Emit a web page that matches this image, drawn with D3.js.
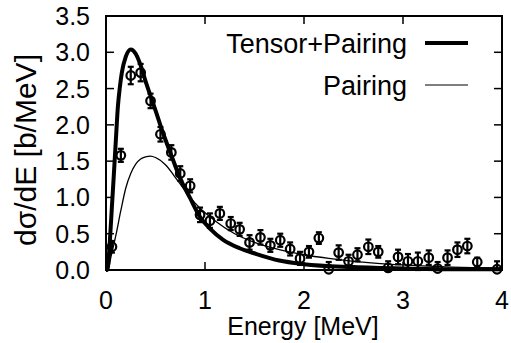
<!DOCTYPE html>
<html>
<head>
    <title></title>
    <script src="https://d3js.org/d3.v7.min.js"></script>
    <style>
        body { margin: 0; background: #fff; }
        text { font-family: "Liberation Sans", Arial, sans-serif; fill: #000; }
    </style>
</head>
<body>

    <svg id="chart" width="511" height="343"></svg>

    <script>

    // measured points
    var energy = [0.06, 0.15, 0.25, 0.35, 0.45, 0.55, 0.66, 0.75, 0.85, 0.95,
                  1.05, 1.15, 1.26, 1.35, 1.45, 1.56, 1.66, 1.76, 1.86, 1.96,
                  2.05, 2.15, 2.25, 2.35, 2.45, 2.54, 2.65, 2.75, 2.85, 2.95,
                  3.05, 3.15, 3.26, 3.35, 3.45, 3.55, 3.65, 3.75, 3.95];
    var dsde   = [0.32, 1.58, 2.68, 2.72, 2.33, 1.87, 1.62, 1.33, 1.16, 0.76,
                  0.68, 0.78, 0.64, 0.56, 0.38, 0.45, 0.34, 0.41, 0.29, 0.16,
                  0.25, 0.44, 0.01, 0.24, 0.12, 0.21, 0.32, 0.25, 0.03, 0.18,
                  0.12, 0.12, 0.17, 0.02, 0.17, 0.28, 0.33, 0.11, 0.01];
    var err    = [0.08, 0.09, 0.12, 0.12, 0.10, 0.10, 0.10, 0.10, 0.09, 0.10,
                  0.10, 0.09, 0.09, 0.09, 0.10, 0.10, 0.09, 0.09, 0.09, 0.09,
                  0.08, 0.08, 0.10, 0.10, 0.09, 0.09, 0.10, 0.08, 0.09, 0.10,
                  0.10, 0.12, 0.10, 0.09, 0.10, 0.10, 0.10, 0.06, 0.11];

    // calculated curves
    var tpE = [0, 0.01, 0.02, 0.04, 0.06, 0.08, 0.10, 0.12, 0.14, 0.16, 0.20, 0.25,
               0.30, 0.35, 0.40, 0.45, 0.50, 0.56, 0.66, 0.75, 0.85, 0.95, 1.05,
               1.18, 1.35, 1.52, 1.75, 2.0, 2.5, 3.0, 3.5, 4.0];
    var tpV = [0, 0, 0.05, 0.42, 0.88, 1.33, 1.80, 2.25, 2.52, 2.72, 2.94, 3.04,
               2.98, 2.82, 2.60, 2.40, 2.20, 1.95, 1.58, 1.26, 0.99, 0.73, 0.57,
               0.42, 0.30, 0.22, 0.13, 0.08, 0.04, 0.02, 0.01, 0.01];

    var pE = [0, 0.02, 0.05, 0.10, 0.15, 0.20, 0.25, 0.30, 0.35, 0.40, 0.45, 0.50,
              0.60, 0.73, 0.85, 0.95, 1.10, 1.30, 1.50, 1.75, 2.0, 2.25, 2.5,
              3.0, 3.5, 4.0];
    var pV = [0, 0, 0.18, 0.48, 0.82, 1.13, 1.33, 1.46, 1.53, 1.56, 1.57, 1.55,
              1.45, 1.22, 1.00, 0.85, 0.68, 0.50, 0.38, 0.28, 0.21, 0.16, 0.12,
              0.07, 0.04, 0.03];

    var xTicks = [0, 1, 2, 3, 4];
    var yTicks = [0, 0.5, 1.0, 1.5, 2.0, 2.5, 3.0, 3.5];

    var legendNames = ["Tensor+Pairing", "Pairing"];

    var L = 106, R = 502, T = 16, B = 270;
    var xSc = d3.scaleLinear().domain([0, 4]).range([L, R]);
    var ySc = d3.scaleLinear().domain([0, 3.5]).range([B, T]);

    var svg = d3.select("#chart");

    // ticks on all four sides, pointing in
    var tk = 8;
    var axes = svg.append("g").attr("stroke", "#000").attr("stroke-width", 1.5);
    xTicks.forEach(function (v) {
        axes.append("line").attr("x1", xSc(v)).attr("x2", xSc(v)).attr("y1", B).attr("y2", B - tk);
        axes.append("line").attr("x1", xSc(v)).attr("x2", xSc(v)).attr("y1", T).attr("y2", T + tk);
    });
    yTicks.forEach(function (v) {
        axes.append("line").attr("y1", ySc(v)).attr("y2", ySc(v)).attr("x1", L).attr("x2", L + tk);
        axes.append("line").attr("y1", ySc(v)).attr("y2", ySc(v)).attr("x1", R).attr("x2", R - tk);
    });

    svg.append("g").selectAll("text").data(xTicks).enter().append("text")
        .attr("x", d => xSc(d)).attr("y", 309)
        .attr("text-anchor", "middle").attr("font-size", 25)
        .text(d => d);
    svg.append("g").selectAll("text").data(yTicks).enter().append("text")
        .attr("x", 90).attr("y", d => ySc(d) + 9)
        .attr("text-anchor", "end").attr("font-size", 25)
        .text(d => d3.format(".1f")(d));

    svg.append("text").attr("x", 303).attr("y", 335)
        .attr("text-anchor", "middle").attr("font-size", 25)
        .text("Energy [MeV]");
    svg.append("text").attr("transform", "translate(36," + 150 + ") rotate(-90)")
        .attr("text-anchor", "middle").attr("font-size", 30)
        .text("dσ/dE [b/MeV]");

    // curves
    var lnMkr = d3.line().x(d => xSc(d[0])).y(d => ySc(d[1])).curve(d3.curveMonotoneX);
    svg.append("path").attr("d", lnMkr(d3.zip(pE, pV)))
        .attr("fill", "none").attr("stroke", "#000").attr("stroke-width", 1.3);
    svg.append("path").attr("d", lnMkr(d3.zip(tpE, tpV)))
        .attr("fill", "none").attr("stroke", "#000").attr("stroke-width", 4);

    // data with error bars
    var pts = d3.zip(energy, dsde, err);
    var g = svg.append("g").attr("stroke", "#000").attr("stroke-width", 2.2).attr("fill", "none");
    var pt = g.selectAll("g").data(pts).enter().append("g");
    pt.append("line")
        .attr("x1", d => xSc(d[0])).attr("x2", d => xSc(d[0]))
        .attr("y1", d => ySc(Math.max(0, d[1] - d[2]))).attr("y2", d => ySc(d[1] + d[2]));
    pt.append("line")
        .attr("x1", d => xSc(d[0]) - 3).attr("x2", d => xSc(d[0]) + 3)
        .attr("y1", d => ySc(d[1] + d[2])).attr("y2", d => ySc(d[1] + d[2]));
    pt.append("line")
        .attr("x1", d => xSc(d[0]) - 3).attr("x2", d => xSc(d[0]) + 3)
        .attr("y1", d => ySc(Math.max(0, d[1] - d[2]))).attr("y2", d => ySc(Math.max(0, d[1] - d[2])));
    pt.append("circle").attr("r", 4.3)
        .attr("cx", d => xSc(d[0])).attr("cy", d => ySc(d[1]));

    // frame
    svg.append("rect").attr("x", L).attr("y", T).attr("width", R - L).attr("height", B - T)
        .attr("fill", "none").attr("stroke", "#000").attr("stroke-width", 2);

    // legend
    var lg = svg.append("g");
    legendNames.forEach(function (name, i) {
        var y = 43 + i * 42;
        lg.append("text").attr("x", 407).attr("y", y + 10)
            .attr("text-anchor", "end").attr("font-size", 27).text(name);
        lg.append("line").attr("x1", 425).attr("x2", 468).attr("y1", y).attr("y2", y)
            .attr("stroke", "#000").attr("stroke-width", i == 0 ? 4 : 1.2);
    });

    </script>

</body></html>
